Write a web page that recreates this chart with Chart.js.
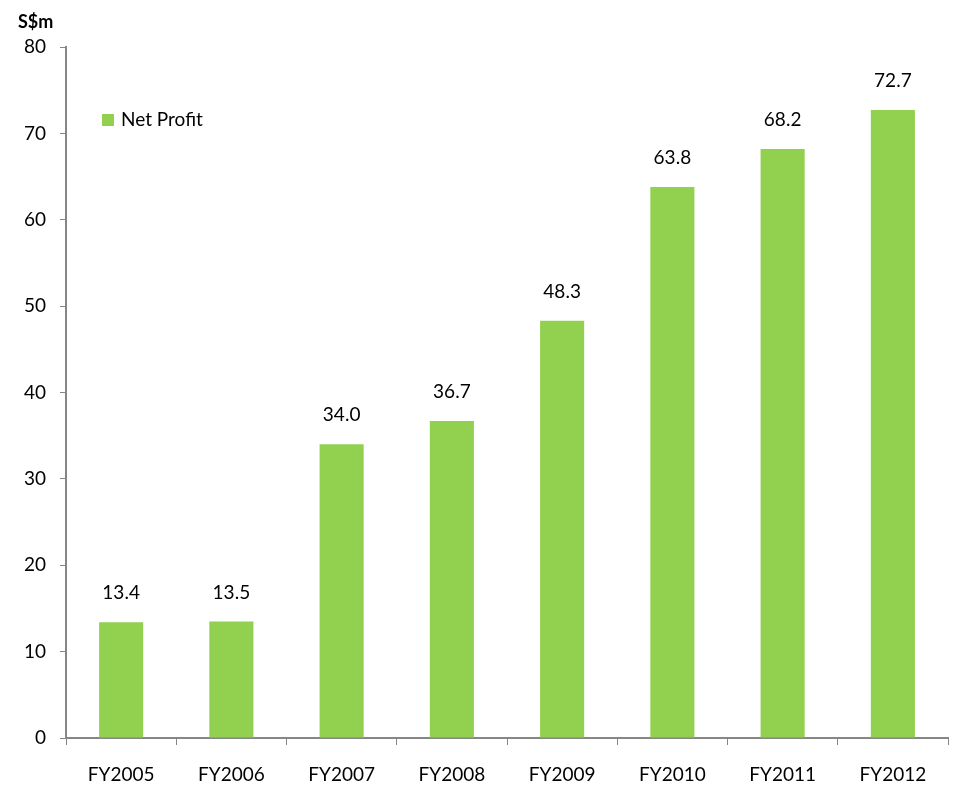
<!DOCTYPE html>
<html lang="en">
<head>
  <meta charset="UTF-8">
  <title>Net Profit</title>
  <script src="https://cdn.jsdelivr.net/npm/chart.js"></script>
  <style>
    html, body { margin: 0; padding: 0; background: #fff; }
    #wrap { width: 954px; height: 786px; position: relative; }
  </style>
</head>
<body>
  <div id="wrap"><canvas id="profit-chart"></canvas></div>

  <script>
    // Net profit per financial year, S$ million
    const years = ['FY2005', 'FY2006', 'FY2007', 'FY2008', 'FY2009', 'FY2010', 'FY2011', 'FY2012'];
    const netProfit = [13.4, 13.5, 34.0, 36.7, 48.3, 63.8, 68.2, 72.7];
    const yTicks = [0, 10, 20, 30, 40, 50, 60, 70, 80];

    const FONT = 'Lato, "Open Sans", sans-serif';
    const AXIS_GREY = '#868686';
    const BAR_GREEN = '#92D050';

    // values above the bars, unit title and the legend box inside the plot
    const extras = {
      id: 'extras',
      afterDatasetsDraw(chart) {
        const ctx = chart.ctx;
        const meta = chart.getDatasetMeta(0);
        ctx.save();
        ctx.fillStyle = '#000';
        ctx.font = '19px ' + FONT;
        ctx.textAlign = 'center';
        ctx.textBaseline = 'middle';
        meta.data.forEach((bar, i) => {
          ctx.fillText(netProfit[i].toFixed(1), bar.x, bar.y - 29);
        });

        ctx.font = 'bold 18px ' + FONT;
        ctx.textAlign = 'left';
        ctx.fillText('S$m', 18, 22);

        const ds = chart.data.datasets[0];
        ctx.fillStyle = BAR_GREEN;
        ctx.fillRect(102, 114, 12, 12);
        ctx.fillStyle = '#000';
        ctx.font = '19px ' + FONT;
        ctx.fillText(ds.label, 121, 120);
        ctx.restore();
      }
    };

    new Chart(document.getElementById('profit-chart'), {
      type: 'bar',
      data: {
        labels: years,
        datasets: [{
          label: 'Net Profit',
          data: netProfit,
          backgroundColor: BAR_GREEN,
          borderWidth: 0,
          categoryPercentage: 0.4,
          barPercentage: 1.0
        }]
      },
      options: {
        responsive: true,
        maintainAspectRatio: false,
        animation: false,
        layout: { padding: { top: 47, right: 6, left: 0, bottom: 0 } },
        plugins: {
          legend: { display: false },
          tooltip: { enabled: false }
        },
        scales: {
          x: {
            grid: {
              offset: true,
              drawOnChartArea: false,
              drawTicks: true,
              tickLength: 7,
              color: AXIS_GREY
            },
            border: { color: AXIS_GREY, width: 2 },
            ticks: {
              color: '#000',
              font: { family: FONT, size: 19 },
              padding: 18,
              maxRotation: 0
            },
            afterFit(scale) { scale.height = 48; }
          },
          y: {
            min: 0,
            max: 80,
            afterBuildTicks(scale) {
              scale.ticks = yTicks.map(v => ({ value: v }));
            },
            grid: {
              drawOnChartArea: false,
              drawTicks: true,
              tickLength: 6,
              color: AXIS_GREY
            },
            border: { color: AXIS_GREY, width: 2 },
            ticks: {
              color: '#000',
              font: { family: FONT, size: 19 },
              padding: 14
            },
            afterFit(scale) { scale.width = 66; }
          }
        }
      },
      plugins: [extras]
    });
  </script>
</body>
</html>
